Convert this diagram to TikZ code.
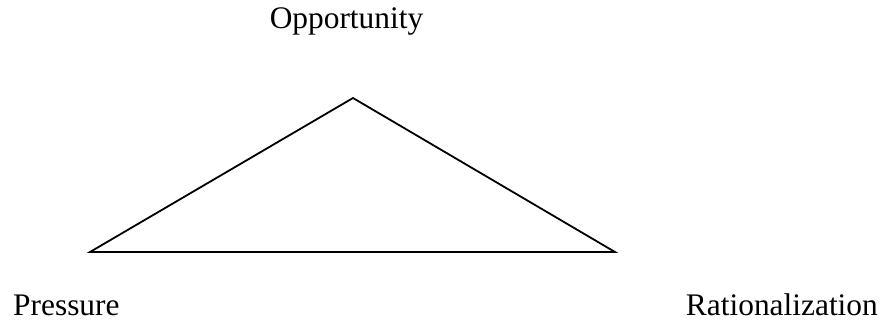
\documentclass[tikz,border=0pt]{standalone}
\usepackage{fontspec}
\setmainfont{Liberation Serif}
\begin{document}
\begin{tikzpicture}[x=1pt,y=-1pt,
  lbl/.style={inner sep=0pt,font=\fontsize{31.4}{37}\selectfont},
  edge/.style={line width=1.8pt,line join=miter}]
\useasboundingbox (0,0) rectangle (885,321);
\coordinate (top) at (353,98);
\coordinate (left) at (90,252);
\coordinate (right) at (615,252);
\draw[edge] (left) -- (top) -- (right) -- cycle;
\node[lbl,anchor=base] (opp) at (346.5,29) {Opportunity};
\node[lbl,anchor=base west] (pre) at (13,315) {Pressure};
\node[lbl,anchor=base east] (rat) at (878,315) {Rationalization};
\end{tikzpicture}
\end{document}
